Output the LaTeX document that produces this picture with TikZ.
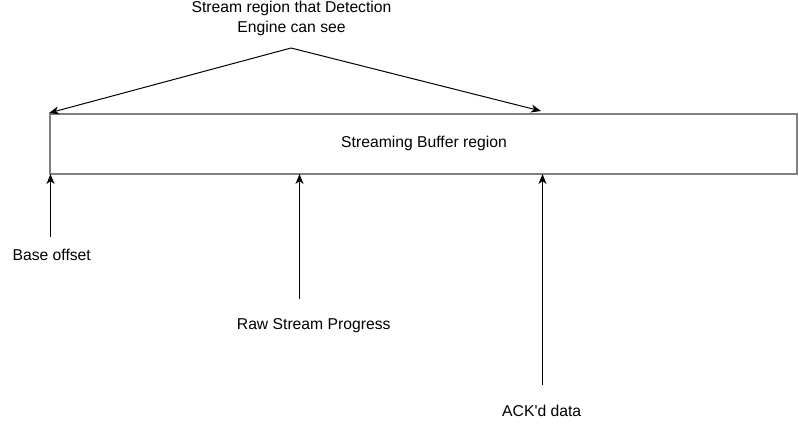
\documentclass[tikz,border=0pt]{standalone}
\usepackage{fontspec}
\setmainfont{Liberation Sans}
\usetikzlibrary{arrows.meta}
\definecolor{bordergray}{RGB}{128,128,128}
\tikzset{
  lbl/.style={inner sep=0pt, font=\fontsize{15.7}{20}\selectfont, align=center},
  buffer/.style={draw=bordergray, line width=2pt, minimum width=747pt, minimum height=60pt, inner sep=0pt, font=\fontsize{15.7}{20}\selectfont},
  conn/.style={draw=black, line width=1pt, -{Stealth[length=10pt,width=8pt,inset=3pt]}}
}
\begin{document}
\begin{tikzpicture}[x=1pt,y=-1pt]
\useasboundingbox (0,0) rectangle (799,439);
\node[buffer] (buf) at (423.5,144) {};
\node[lbl] (buftxt) at (424,143) {Streaming Buffer region};
\node[lbl] (title) at (291.5,18) {Stream region that Detection\\Engine can see};
\node[lbl] (base) at (51.7,255) {Base offset};
\node[lbl] (raw) at (313.7,326) {Raw Stream Progress};
\node[lbl] (ack) at (541.7,411) {ACK\textquotesingle d data};
\coordinate (apex) at (291,48);
\coordinate (rtip) at (541,111);
\coordinate (bstart) at (50.5,237);
\coordinate (rstart) at (299.5,299);
\coordinate (astart) at (542.5,385);
\coordinate (btip) at (50.5,174);
\coordinate (rawtip) at (299.5,174);
\coordinate (acktip) at (542.5,174);
\draw[conn] (apex) -- (buf.north west);
\draw[conn] (apex) -- (rtip);
\draw[conn] (bstart) -- (btip);
\draw[conn] (rstart) -- (rawtip);
\draw[conn] (astart) -- (acktip);
\end{tikzpicture}
\end{document}
